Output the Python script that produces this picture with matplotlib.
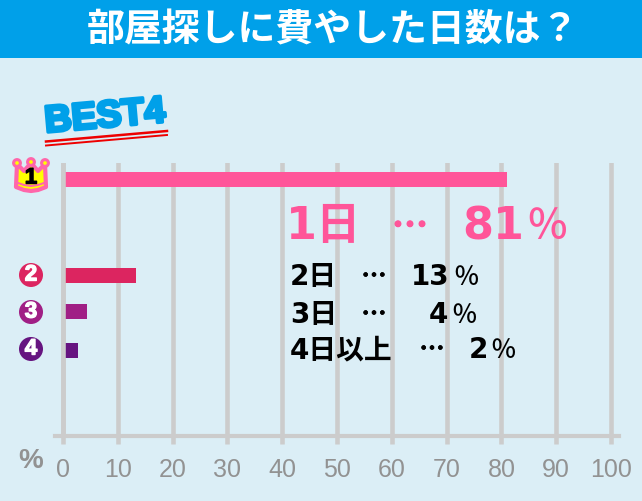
import matplotlib
matplotlib.use('Agg')
import matplotlib.pyplot as plt
import matplotlib.patheffects as pe
from matplotlib.patches import Circle, Polygon, Rectangle

# values
labels = ['1日', '2日', '3日', '4日以上']
pct_text = ['81', '13', '4', '2']
bar_values = [81, 13.3, 4.3, 2.7]
bar_colors = ['#ff5599', '#dc2560', '#a01f85', '#661480']
x_ticks = [0, 10, 20, 30, 40, 50, 60, 70, 80, 90, 100]

W, H = 642, 501
BG = '#dbeef6'
BLUE = '#00a0e9'
GRID = '#cccccc'
TICK_TXT = '#929292'

plt.rcParams['font.family'] = ['Noto Sans CJK JP', 'DejaVu Sans']
LATIN = ['Liberation Sans', 'DejaVu Sans']
MIXED = ['DejaVu Sans', 'Noto Sans CJK JP']

fig = plt.figure(figsize=(W / 100, H / 100), dpi=100, facecolor=BG)

# overlay in pixel coordinates, for the banner and decorations
deco = fig.add_axes([0, 0, 1, 1], zorder=3)
deco.set_xlim(0, W)
deco.set_ylim(H, 0)
deco.axis('off')

# main plot: 0 at x=63px, 5.48px per percent
left, right, top, bottom = 55, 619, 163, 436
ax = fig.add_axes([left / W, 1 - bottom / H, (right - left) / W, (bottom - top) / H], zorder=2)
ax.patch.set_alpha(0)
ax.set_xlim((left - 63) / 5.48, (right - 63) / 5.48)
ax.set_ylim(bottom, top)

bar_y = [179, 275.5, 311.5, 350]
bar_h = [15, 15, 15, 15]
ax.barh(bar_y, bar_values, height=bar_h, color=bar_colors, zorder=3)
ax.axvline(0, color=GRID, lw=3.3, zorder=4)

ax.set_xticks(x_ticks)
ax.set_yticks([])
ax.grid(axis='x', color=GRID, lw=3.3, zorder=1)
ax.set_axisbelow(True)
for s in ['top', 'left', 'right']:
    ax.spines[s].set_visible(False)
ax.spines['bottom'].set_color(GRID)
ax.spines['bottom'].set_linewidth(3)
ax.tick_params(axis='x', length=6, width=3.3, color=GRID, pad=10, labelcolor=TICK_TXT)
for t in ax.get_xticklabels():
    t.set_fontfamily(LATIN)
    t.set_fontsize(18)

deco.text(31, 461, '%', color=TICK_TXT, fontsize=20, fontweight='bold', ha='center', va='center',
          family=LATIN)

# banner
deco.add_patch(Rectangle((0, 0), W, 58, color=BLUE, lw=0))
deco.text(333, 30, '部屋探しに費やした日数は？', color='white', fontsize=27.3,
          fontweight='bold', ha='center', va='center')

# BEST4
deco.plot([46, 167], [141.5, 131], color='#ee0000', lw=1.8)
deco.plot([46, 167], [145.5, 135], color='#ee0000', lw=1.4)
deco.text(105, 117, 'BEST4', color=BLUE, fontsize=27, fontweight='bold', rotation=5,
          ha='center', va='center', family=LATIN, zorder=5,
          path_effects=[pe.withStroke(linewidth=2.5, foreground=BLUE)])

# crown for rank 1
crown = [(17, 164), (24, 171), (31, 163), (38, 171), (45, 164), (46, 187),
         (38, 190), (31, 191), (24, 190), (16, 187)]
deco.add_patch(Polygon(crown, closed=True, fc='#ffff00', ec='#ff66aa', lw=3, joinstyle='round'))
for cx, cy in [(17, 163), (31, 162), (45, 163)]:
    deco.add_patch(Circle((cx, cy), 3.4, fc='#ffff00', ec='#ff66aa', lw=2.2))
deco.plot([18, 24, 31, 38, 44], [183, 185, 186, 185, 183], color='#ff66aa', lw=1.5)
deco.text(31, 178, '1', color='black', fontsize=16, fontweight='bold', ha='center', va='center',
          family=LATIN, path_effects=[pe.withStroke(linewidth=1, foreground='black')])

# rank badges
for rank, y, c in zip(['2', '3', '4'], [275, 312, 349], bar_colors[1:]):
    deco.add_patch(Circle((31, y), 12, fc=c, ec='none'))
    deco.text(31, y, rank, color='white', fontsize=16, fontweight='bold', ha='center', va='center',
              family=LATIN, path_effects=[pe.withStroke(linewidth=1, foreground='white')])

# value captions
PINK = bar_colors[0]
dot_fx = [pe.withStroke(linewidth=0.8, foreground=PINK)]
deco.text(286, 239, labels[0], color=PINK, fontsize=32, fontweight='bold', ha='left', va='baseline',
          family=MIXED)
deco.text(410, 227, '…', color=PINK, fontsize=26, fontweight='bold', ha='center', va='center',
          path_effects=dot_fx)
deco.text(462, 239, pct_text[0], color=PINK, fontsize=32, fontweight='bold', ha='left', va='baseline',
          family=MIXED)
deco.text(526, 239, '％', color=PINK, fontsize=30, ha='left', va='baseline', fontweight='medium')

cap_y = [285, 323, 358]
dot_x = [374, 374, 432]
num_x = [411, 429, 469]
sign_x = [453, 451, 490]
for i in range(1, 4):
    y = cap_y[i - 1]
    deco.text(290, y, labels[i], color='black', fontsize=20, fontweight='bold', ha='left', va='baseline',
              family=MIXED)
    deco.text(dot_x[i - 1], y - 8, '…', color='black', fontsize=18, fontweight='bold', ha='center', va='center',
              path_effects=[pe.withStroke(linewidth=0.5, foreground='black')])
    deco.text(num_x[i - 1], y, pct_text[i], color='black', fontsize=20, fontweight='bold', ha='left', va='baseline',
              family=MIXED)
    deco.text(sign_x[i - 1], y, '％', color='black', fontsize=18.5, ha='left', va='baseline', fontweight='medium')

fig.savefig('out.png', dpi=100, facecolor=BG)
